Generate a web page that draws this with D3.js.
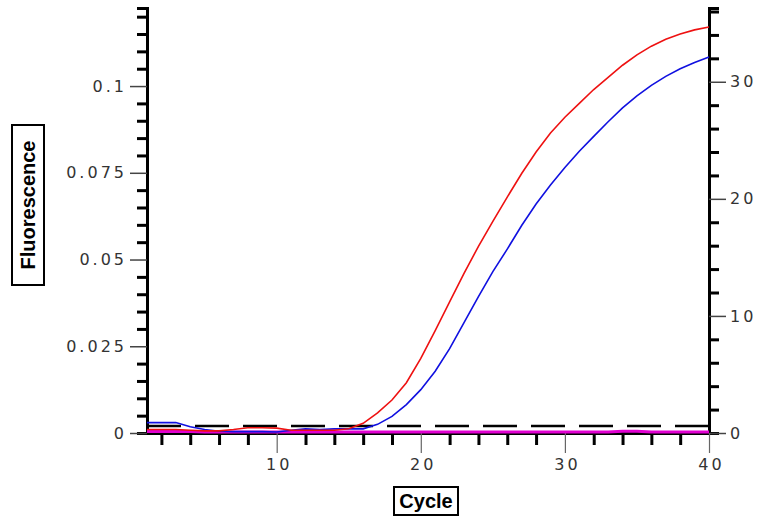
<!DOCTYPE html>
<html>
<head>
<meta charset="utf-8">
<script src="https://cdn.jsdelivr.net/npm/d3@7"></script>
<style>
  body { margin: 0; background: #fff; }
  .tick text { font-family: "DejaVu Sans", sans-serif; font-size: 16px; fill: #333; letter-spacing: 3px; }
  .domain { stroke: #000; stroke-width: 3px; }
</style>
</head>
<body>
<div id="chart"></div>
<script>
// cycle numbers 1..40
const cycles = d3.range(1, 41);

// sample A (red) fluorescence per cycle
const redValues = [0.0010, 0.0010, 0.0010, 0.0008, 0.0006, 0.0006, 0.0010, 0.0015, 0.0015, 0.0014,
    0.0008, 0.0008, 0.0008, 0.0008, 0.0012, 0.0028, 0.0058, 0.0095, 0.0145, 0.0215,
    0.0295, 0.0378, 0.0460, 0.0538, 0.0610, 0.0680, 0.0748, 0.0810, 0.0865, 0.0910,
    0.0950, 0.0990, 0.1025, 0.1060, 0.1090, 0.1115, 0.1135, 0.1150, 0.1162, 0.1170];

// sample B (blue)
const blueValues = [0.0030, 0.0030, 0.0030, 0.0018, 0.0010, 0.0005, 0.0004, 0.0004, 0.0004, 0.0003,
    0.0008, 0.0012, 0.0010, 0.0012, 0.0012, 0.0012, 0.0025, 0.0048, 0.0082, 0.0125,
    0.0178, 0.0243, 0.0318, 0.0393, 0.0465, 0.0530, 0.0598, 0.0660, 0.0715, 0.0765,
    0.0812, 0.0855, 0.0897, 0.0937, 0.0972, 0.1002, 0.1028, 0.1050, 0.1068, 0.1084];

// negative control (magenta), flat near zero
const magentaValues = [0.0004, 0.0004, 0.0004, 0.0004, 0.0003, 0.0003, 0.0003, 0.0003, 0.0003, 0.0003,
    0.0003, 0.0003, 0.0003, 0.0003, 0.0003, 0.0003, 0.0003, 0.0003, 0.0003, 0.0003,
    0.0003, 0.0003, 0.0003, 0.0003, 0.0003, 0.0003, 0.0003, 0.0003, 0.0003, 0.0003,
    0.0003, 0.0003, 0.0003, 0.0005, 0.0005, 0.0003, 0.0003, 0.0003, 0.0003, 0.0003];

const threshold = 0.002;

const leftMajor = [0, 0.025, 0.05, 0.075, 0.1];
const leftLabels = ["0", "0.025", "0.05", "0.075", "0.1"];
const rightMajor = [0, 10, 20, 30];
const bottomMajor = [10, 20, 30, 40];

// set the dimensions and margins of the graph
const margin = { top: 8, right: 54, bottom: 88, left: 147 },
    width = 763 - margin.left - margin.right,
    height = 521 - margin.top - margin.bottom;

const svgRoot = d3.select("#chart")
    .append("svg")
    .attr("width", 763)
    .attr("height", 521);

const svg = svgRoot.append("g")
    .attr("transform", `translate(${margin.left}, ${margin.top})`);

const x = d3.scaleLinear().domain([1, 40]).range([0, width]);
const y = d3.scaleLinear().domain([0, 0.1225]).range([height, 0]);
const y2 = d3.scaleLinear().domain([0, 36.3]).range([height, 0]);

// minor ticks (thick, short)
const leftMinor = d3.range(0, 0.1226, 0.005).filter(v => !leftMajor.some(m => Math.abs(m - v) < 1e-9));
const rightMinor = d3.range(0, 36.3, 2).filter(v => v % 10 !== 0);
const bottomMinor = d3.range(2, 41, 2).filter(v => v % 10 !== 0);

svg.append("g")
    .call(d3.axisLeft(y).tickValues(leftMinor).tickSize(10).tickFormat(""))
    .call(g => g.selectAll(".tick line").attr("stroke", "#000").attr("stroke-width", 3));
svg.append("g")
    .call(d3.axisLeft(y).tickValues(leftMajor).tickSize(17).tickPadding(3)
        .tickFormat((d, i) => leftLabels[i]))
    .call(g => g.selectAll(".tick line").attr("stroke", "#444").attr("stroke-width", 1.5))
    .call(g => g.select(".domain").remove());

svg.append("g")
    .attr("transform", `translate(${width},0)`)
    .call(d3.axisRight(y2).tickValues(rightMinor).tickSize(10).tickFormat(""))
    .call(g => g.selectAll(".tick line").attr("stroke", "#000").attr("stroke-width", 3));
svg.append("g")
    .attr("transform", `translate(${width},0)`)
    .call(d3.axisRight(y2).tickValues(rightMajor).tickSize(17).tickPadding(4))
    .call(g => g.selectAll(".tick line").attr("stroke", "#444").attr("stroke-width", 1.5))
    .call(g => g.select(".domain").remove());

svg.append("g")
    .attr("transform", `translate(0,${height})`)
    .call(d3.axisBottom(x).tickValues(bottomMinor).tickSize(12).tickSizeOuter(0).tickFormat(""))
    .call(g => g.selectAll(".tick line").attr("stroke", "#000").attr("stroke-width", 3));
svg.append("g")
    .attr("transform", `translate(0,${height})`)
    .call(d3.axisBottom(x).tickValues(bottomMajor).tickSize(20).tickPadding(6))
    .call(g => g.selectAll(".tick line").attr("stroke", "#666").attr("stroke-width", 1.2))
    .call(g => g.selectAll(".tick text").attr("dx", 2))
    .call(g => g.select(".domain").remove());

// threshold line
svg.append("line")
    .attr("x1", x(1)).attr("x2", x(40))
    .attr("y1", y(threshold)).attr("y2", y(threshold))
    .attr("stroke", "#000")
    .attr("stroke-width", 2.5)
    .attr("stroke-dasharray", "34,14");

const line = d3.line()
    .x((d, i) => x(cycles[i]))
    .y(d => y(d));

svg.append("path").datum(magentaValues)
    .attr("d", line).attr("fill", "none")
    .attr("stroke", "#e000d0").attr("stroke-width", 3);

svg.append("path").datum(blueValues)
    .attr("d", line).attr("fill", "none")
    .attr("stroke", "#1010e0").attr("stroke-width", 1.6);

svg.append("path").datum(redValues)
    .attr("d", line).attr("fill", "none")
    .attr("stroke", "#ee1111").attr("stroke-width", 1.6);

// axis titles in boxes
const yTitle = svgRoot.append("g").attr("transform", "translate(28,205) rotate(-90)");
yTitle.append("rect")
    .attr("x", -80).attr("y", -16).attr("width", 160).attr("height", 32)
    .attr("fill", "#fff").attr("stroke", "#000").attr("stroke-width", 2);
yTitle.append("text")
    .attr("text-anchor", "middle").attr("dy", "0.36em")
    .style("font-family", "Liberation Sans, Arial, sans-serif")
    .style("font-weight", "bold").style("font-size", "20px")
    .text("Fluorescence");

const xTitle = svgRoot.append("g").attr("transform", "translate(426,501)");
xTitle.append("rect")
    .attr("x", -32).attr("y", -14).attr("width", 64).attr("height", 28)
    .attr("fill", "#fff").attr("stroke", "#000").attr("stroke-width", 2);
xTitle.append("text")
    .attr("text-anchor", "middle").attr("dy", "0.36em")
    .style("font-family", "Liberation Sans, Arial, sans-serif")
    .style("font-weight", "bold").style("font-size", "20px")
    .text("Cycle");
</script>
</body>
</html>
